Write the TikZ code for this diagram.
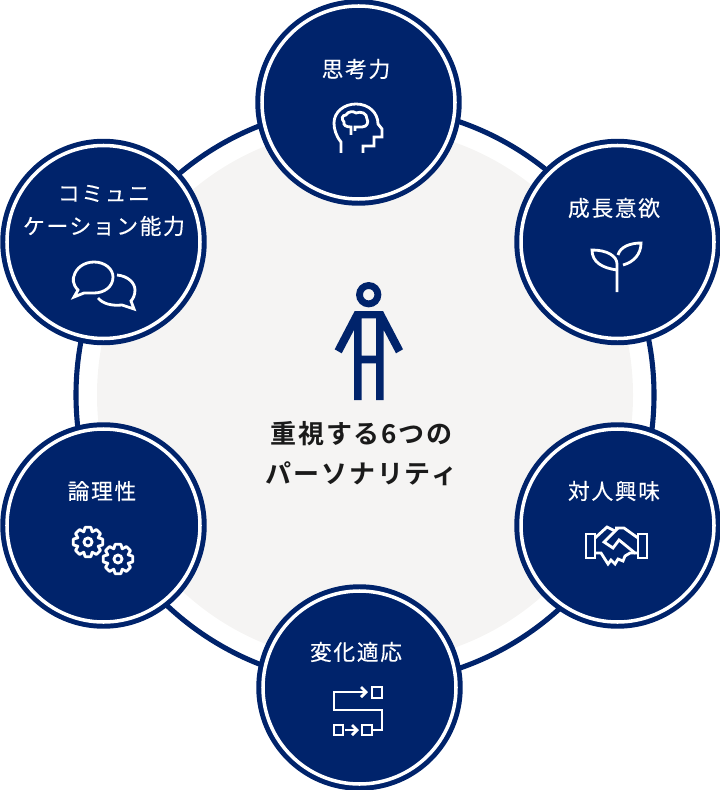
\documentclass[tikz,border=0pt]{standalone}
\usepackage{fontspec}
\newfontfamily\jpfont[LetterSpace=7.5,FakeBold=0.3]{Noto Sans CJK JP}
\newfontfamily\jpbold[LetterSpace=7,BoldFont={* Bold}]{Noto Sans CJK JP}
\definecolor{NavyClr}{HTML}{00236B}
\definecolor{PaleClr}{HTML}{F5F4F3}
\definecolor{InkClr}{HTML}{1A1A1A}
\tikzset{
  bubble/.style={circle,fill=NavyClr,minimum size=4.13cm,inner sep=0pt},
  bubbletxt/.style={text=white,align=center,font=\jpfont\fontsize{12.4}{18.7}\selectfont,inner sep=0pt},
  icon/.style={draw=white,line width=1.6pt,line join=miter},
  thinring/.style={draw=white,line width=2pt}
}
\begin{document}
\begin{tikzpicture}[x=0.02cm,y=-0.02cm]
\useasboundingbox (0,0) rectangle (719.7,790);

\fill[PaleClr] (365,395) circle (268);
\draw[NavyClr,line width=2.9pt] (365,395) circle (289);

\node[bubble] (think) at (358.5,102.5) {};
\node[bubble] (grow) at (617.5,242) {};
\node[bubble] (people) at (617.5,525.5) {};
\node[bubble] (adapt) at (359.5,687.5) {};
\node[bubble] (logic) at (103.5,525.5) {};
\node[bubble] (social) at (103.5,242) {};

\foreach \c in {think,grow,people,adapt,logic,social}
  \draw[thinring] (\c) circle (96.5);

\node[bubbletxt] (thinktxt) at (356,69) {思考力};
\node[bubbletxt] (growtxt) at (614,208) {成長意欲};
\node[bubbletxt] (peopletxt) at (614,491) {対人興味};
\node[bubbletxt] (adapttxt) at (356,652) {変化適応};
\node[bubbletxt] (logictxt) at (102,491) {論理性};
\node[bubbletxt] (socialtxt) at (104,210.5) {コミュニ\\ケーション能力};

% head
\draw[icon] (341,153) -- (341,142) .. controls (336,136) and (334,129) .. (334,123)
  .. controls (334,112) and (344,104) .. (356,104) .. controls (369,104) and (378,113) .. (378,124)
  -- (382,129) -- (382,137) -- (374,137) -- (374,146) -- (363,146) -- (363,153);
\draw[icon] (351,135) -- (351,127) .. controls (346,127) and (343,125) .. (344,122)
  .. controls (341,119) and (342,115) .. (346,115) .. controls (348,111) and (354,111) .. (356,113)
  .. controls (361,111) and (367,113) .. (367,119) .. controls (369,122) and (367,127) .. (362,127)
  -- (355,127) -- (355,131);

% sprout
\draw[icon] (617,292) -- (617,264) .. controls (617,256) and (607,250) .. (592,250)
  .. controls (592,262) and (602,268) .. (617,270);
\draw[icon] (618,255) .. controls (620,247) and (630,243) .. (641,243)
  .. controls (641,254) and (634,262) .. (623,265);

% handshake
\draw[icon] (586,534) rectangle (595,558);
\draw[icon] (638,534) rectangle (647,558);
\draw[icon] (595,538) -- (607,527) -- (615,531);
\draw[icon] (615,528) -- (624,528) -- (638,538);
\draw[icon] (618,528) -- (604,542) -- (613,548) -- (619,540) -- (635,553) -- (638,553);
\draw[icon] (595,553) -- (601,553) -- (608,564) -- (611,560) -- (615,564) -- (618,559) -- (623,561) -- (625,556) -- (630,553) -- (635,553);

% arrows and boxes
\draw[icon] (372,687) rectangle (382,698);
\draw[icon] (362,725) rectangle (372,735);
\draw[icon] (334,725) rectangle (343,735);
\draw[icon] (366,692) -- (334,692) -- (334,710) -- (382,710) -- (382,730) -- (372,730);
\draw[icon] (361,687) -- (366,692) -- (361,697);
\draw[icon] (345,730) -- (357,730);
\draw[icon] (352,725) -- (357,730) -- (352,735);

% gears
\foreach \cx/\cy in {88/542,118/559}{
  \draw[icon] (\cx,\cy) circle (4);
  \draw[icon,line join=round] ({\cx+11*cos(-22.5)},{\cy+11*sin(-22.5)})
    \foreach \a in {0,45,...,315}{
      -- ({\cx+15*cos(\a-11)},{\cy+15*sin(\a-11)})
      -- ({\cx+15*cos(\a+11)},{\cy+15*sin(\a+11)})
      -- ({\cx+11*cos(\a+22.5)},{\cy+11*sin(\a+22.5)})
    } -- cycle;
}

% speech
\draw[icon] (78,290) .. controls (72,284) and (73,278) .. (74,276)
  .. controls (76,268) and (84,262) .. (94,262) .. controls (105,262) and (113,269) .. (113,277)
  .. controls (113,287) and (104,293) .. (94,293) .. controls (89,293) and (86,293) .. (84,293)
  -- (74,297) -- cycle;
\draw[icon] (117,275) .. controls (128,276) and (135,283) .. (135,290)
  .. controls (135,295) and (133,299) .. (131,301) -- (134,309) -- (122,305)
  .. controls (112,306) and (103,304) .. (98,298);

% person in the middle
\draw[NavyClr,line width=3.9pt] (368.7,294.7) circle (9.2);
\fill[NavyClr,even odd rule] (334.7,349.3) -- (354.7,311) -- (383,311) -- (403,349.3) -- (396,353.3)
  -- (383.7,330) -- (383.7,400) -- (376,400) -- (376,363.3) -- (361.5,363.3) -- (361.5,400)
  -- (354,400) -- (354,330) -- (341.7,353.3) -- cycle
  (361.5,318.3) rectangle (376,355.7);

\node[text=InkClr,align=center,inner sep=0pt,font=\jpbold\bfseries\fontsize{14.8}{22.7}\selectfont] (title) at (361.5,454)
  {重視する6つの\\パーソナリティ};
\end{tikzpicture}
\end{document}
